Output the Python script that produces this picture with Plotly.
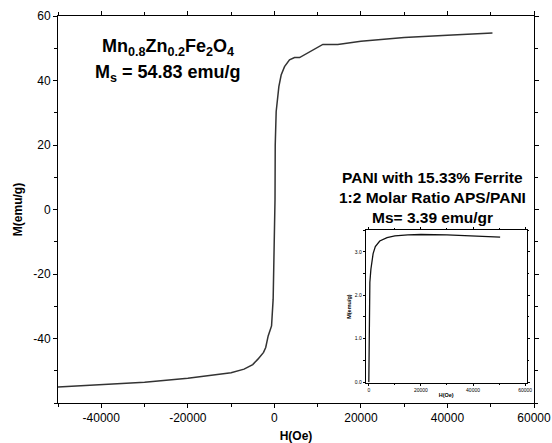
import plotly.graph_objects as go

# Main curve: Mn0.8Zn0.2Fe2O4
H_main = [-50000, -40000, -30000, -20000, -15000, -10000, -7000, -5000, -3800,
          -2500, -2000, -1430, -650, -280, -100, 150, 200, 350, 420, 1040, 1570,
          2350, 3500, 4660, 5820, 11200, 14660, 20000, 30000, 40000, 50400]
M_main = [-55.0, -54.3, -53.6, -52.3, -51.5, -50.6, -49.5, -48.1, -46.4,
          -44.3, -42.8, -39.2, -36.1, -27.8, -15.0, 3.0, 20.0, 27.8, 30.4, 38.1, 41.7,
          44.3, 46.4, 47.1, 47.1, 51.2, 51.2, 52.2, 53.3, 54.0, 54.7]

# Inset curve: PANI with 15.33% Ferrite
H_inset = [0, 100, 250, 400, 800, 1650, 2500, 4200, 7000, 10000, 15000, 20000,
           30000, 40000, 50400]
M_inset = [0.0, 1.0, 1.8, 2.3, 2.6, 2.96, 3.12, 3.25, 3.33, 3.37, 3.39, 3.40,
           3.39, 3.37, 3.34]

x_ticks = [-40000, -20000, 0, 20000, 40000, 60000]
x_ticklabels = ["-40000", "-20000", "0", "20000", "40000", "60000"]
y_ticks = [-40, -20, 0, 20, 40, 60]
y_ticklabels = ["-40", "-20", "0", "20", "40", "60"]
ix_ticks = [0, 20000, 40000, 60000]
ix_ticklabels = ["0", "20000", "40000", "60000"]
iy_ticks = [0, 1, 2, 3]
iy_ticklabels = ["0.0", "1.0", "2.0", "3.0"]

FONT = "Arial, Liberation Sans, sans-serif"

fig = go.Figure()
fig.add_trace(go.Scatter(x=H_main, y=M_main, mode="lines",
                         line=dict(color="#333333", width=1.5),
                         xaxis="x", yaxis="y", showlegend=False))
fig.add_trace(go.Scatter(x=H_inset, y=M_inset, mode="lines",
                         line=dict(color="#111111", width=1.3),
                         xaxis="x2", yaxis="y2", showlegend=False))

axis_common = dict(showgrid=False, zeroline=False, showline=True, linecolor="black",
                   linewidth=1, mirror="ticks", ticks="outside", tickcolor="black",
                   automargin=False)

fig.update_layout(
    width=552, height=443,
    margin=dict(l=58, r=18, t=16, b=40),
    paper_bgcolor="white", plot_bgcolor="white",
    font=dict(family=FONT, color="black"),
    xaxis=dict(axis_common, range=[-50000, 60000], tickmode="array",
               tickvals=x_ticks, ticktext=x_ticklabels, ticklen=4,
               tickfont=dict(size=12),
               minor=dict(dtick=10000, tick0=0, ticks="outside", ticklen=3, tickcolor="black"),
               title=dict(text="<b>H(Oe)</b>", font=dict(size=12), standoff=7)),
    yaxis=dict(axis_common, range=[-60, 60], tickmode="array",
               tickvals=y_ticks, ticktext=y_ticklabels, ticklen=4,
               tickfont=dict(size=12),
               minor=dict(dtick=10, tick0=0, ticks="outside", ticklen=3, tickcolor="black"),
               title=dict(text="<b>M(emu/g)</b>", font=dict(size=12), standoff=8)),
    xaxis2=dict(axis_common, domain=[0.6464, 0.9847], anchor="y2",
                range=[-1200, 60600], tickmode="array", tickvals=ix_ticks,
                ticktext=ix_ticklabels, ticklen=2, tickfont=dict(size=5),
                minor=dict(dtick=10000, tick0=0, ticks="outside", ticklen=1.5, tickcolor="black"),
                title=dict(text="<b>H(Oe)</b>", font=dict(size=5.5), standoff=1)),
    yaxis2=dict(axis_common, domain=[0.0517, 0.4466], anchor="x2",
                range=[-0.02, 3.5], tickmode="array", tickvals=iy_ticks,
                ticktext=iy_ticklabels, ticklen=2, tickfont=dict(size=5),
                minor=dict(dtick=0.5, tick0=0, ticks="outside", ticklen=1.5, tickcolor="black"),
                title=dict(text="<b>M(emu/g)</b>", font=dict(size=5.5), standoff=2)),
)

ann_font_big = dict(family=FONT, size=18, color="black")
ann_font_mid = dict(family=FONT, size=15.5, color="black")
fig.add_annotation(x=-24580, y=50.1, xref="x", yref="y", showarrow=False,
                   text="<b>Mn<sub>0.8</sub>Zn<sub>0.2</sub>Fe<sub>2</sub>O<sub>4</sub></b>",
                   font=ann_font_big, xanchor="center", yanchor="middle")
fig.add_annotation(x=-24580, y=42.3, xref="x", yref="y", showarrow=False,
                   text="<b>M<sub>s</sub> = 54.83 emu/g</b>",
                   font=ann_font_big, xanchor="center", yanchor="middle")
for txt, yy in [("<b>PANI with 15.33% Ferrite</b>", 10.0),
                ("<b>1:2 Molar Ratio APS/PANI</b>", 3.7),
                ("<b>Ms= 3.39 emu/gr</b>", -2.4)]:
    fig.add_annotation(x=36430, y=yy, xref="x", yref="y", showarrow=False,
                       text=txt, font=ann_font_mid, xanchor="center", yanchor="middle")

# Remove the browser's default 8px body margin so the 552x443 figure fills the window.
fig.write_html("out.html",
               config={"displayModeBar": False},
               post_script="document.body.style.margin='0';"
                           "document.body.style.overflow='hidden';")
